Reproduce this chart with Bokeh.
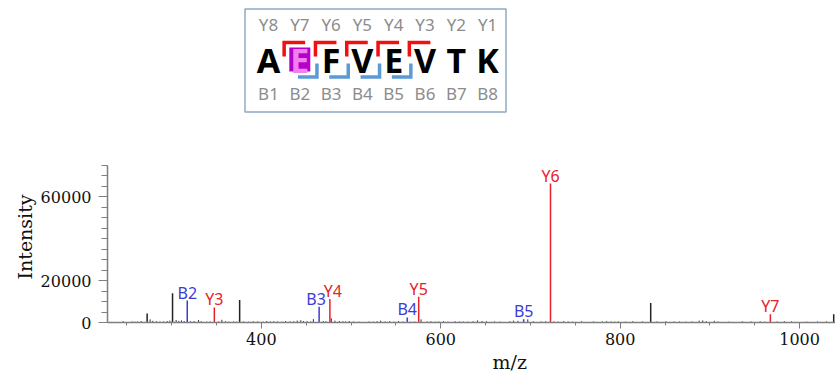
from bokeh.plotting import figure
from bokeh.models import Range1d, FixedTicker, ColumnDataSource, Title
from bokeh.embed import file_html
from bokeh.resources import INLINE
from bokeh.core.properties import value

# ---------------- data ----------------
ion_labels = ["B2", "Y3", "B3", "Y4", "B4", "Y5", "B5", "Y6", "Y7"]
ion_mz = [317.4, 347.6, 464.4, 476.4, 562.6, 575.4, 692.4, 722.3, 967.4]
ion_int = [10500, 7200, 7500, 11200, 2400, 12300, 1500, 66400, 4000]

major_mz = [272.7, 301.0, 375.8, 834.0, 1038.0]
major_int = [4300, 14000, 10700, 9300, 4000]

noise_mz = [246, 256, 259, 262, 266, 276, 279, 283, 287, 291, 295, 298, 305, 308,
            311, 314, 321, 325, 330, 333, 339, 343, 352, 356, 360, 364, 369, 372,
            380, 386, 391, 396, 402, 406, 410, 414, 418, 423, 427, 432, 436, 440,
            444, 447, 451, 455, 458, 469, 472, 478, 482, 487, 491, 494, 498, 503,
            509, 520, 525, 529, 533, 538, 543, 548, 553, 558, 566, 571, 578, 585,
            589, 594, 598, 603, 608, 616, 621, 625, 630, 636, 641, 646, 651, 660,
            666, 677, 681, 686, 697, 703, 712, 717, 726, 731, 737, 742, 747, 757,
            770, 780, 785, 790, 794, 798, 806, 814, 825, 841, 851, 860, 866, 873,
            880, 888, 892, 896, 905, 909, 921, 936, 946, 956, 961, 975, 983, 991,
            1008, 1020, 1030]
noise_int = [600, 500, 400, 500, 700, 1500, 800, 600, 500, 500, 700, 900, 1200, 800,
             1000, 700, 600, 700, 1200, 600, 400, 500, 500, 1300, 600, 400, 500, 400,
             500, 400, 600, 500, 400, 700, 500, 600, 500, 400, 700, 500, 600, 900,
             1100, 700, 600, 500, 1600, 700, 600, 2000, 900, 700, 600, 500, 700, 500,
             400, 500, 400, 600, 900, 500, 600, 400, 700, 500, 400, 500, 1500, 500,
             600, 400, 500, 600, 400, 600, 500, 500, 400, 600, 1000, 700, 600, 500,
             400, 600, 900, 800, 1500, 600, 500, 600, 500, 400, 600, 500, 400, 600,
             500, 500, 600, 500, 400, 500, 400, 600, 500, 500, 600, 500, 500, 400,
             500, 900, 1000, 600, 800, 500, 400, 600, 500, 600, 400, 500, 600, 500,
             400, 500, 500]

sequence = list("AEFVEVTK")
y_ion_names = ["Y8", "Y7", "Y6", "Y5", "Y4", "Y3", "Y2", "Y1"]
b_ion_names = ["B1", "B2", "B3", "B4", "B5", "B6", "B7", "B8"]
y_bracket_after = [1, 2, 3, 4, 5]   # cleavage sites observed as Y ions
b_bracket_after = [2, 3, 4, 5]      # cleavage sites observed as B ions
modified_index = 1

y_ticks = [0, 20000, 60000]
x_ticks = [400, 600, 800, 1000]
y_axis_max = 75000

RED = "#e8202a"
BLUE = "#3b3bd6"
GRAY_AXIS = "#7f7f7f"

# picture-pixel geometry
W, H = 835, 380
BORDER_L, BORDER_B = 107, 58
FL, FR, FT = BORDER_L, W, 0
FB = H - BORDER_B
AXIS_TOP = 165  # where the intensity axis ends (75000)

y_end = y_axis_max * (FB - FT) / (FB - AXIS_TOP)

p = figure(width=W, height=H, x_range=Range1d(228.5, 1040), y_range=Range1d(0, y_end),
           output_backend="svg", toolbar_location=None,
           min_border_left=BORDER_L, min_border_right=0, min_border_top=0,
           min_border_bottom=BORDER_B)
p.title = None
p.outline_line_color = None
p.grid.visible = False
p.background_fill_color = "white"

# inset coordinates: picture pixels
p.extra_x_ranges = {"px": Range1d(FL, FR)}
p.extra_y_ranges = {"py": Range1d(FB, FT)}

# ---------------- spectrum ----------------
p.segment(x0=noise_mz, y0=[0] * len(noise_mz), x1=noise_mz, y1=noise_int,
          line_color="#333333", line_width=1)
p.segment(x0=major_mz, y0=[0] * len(major_mz), x1=major_mz, y1=major_int,
          line_color="#222222", line_width=1.5)

ion_colors = [RED if l.startswith("Y") else BLUE for l in ion_labels]
label_dx = [0, 0, -3, 3, 0, 0, 0, 0, 0]
src = ColumnDataSource(dict(x=ion_mz, y=ion_int, t=ion_labels, c=ion_colors,
                            z=[0] * len(ion_mz), dx=label_dx))
p.segment(x0="x", y0="z", x1="x", y1="y", line_color="c", line_width=1.5, source=src)
p.text(x="x", y="y", text="t", text_color="c", source=src, text_align="center",
       text_baseline="bottom", y_offset=3, x_offset="dx",
       text_font=value("Noto Sans"), text_font_size="16px")

p.yaxis.ticker = FixedTicker(ticks=y_ticks, minor_ticks=list(range(0, y_axis_max + 1, 5000)))
p.yaxis.bounds = (0, y_axis_max)
p.xaxis.ticker = FixedTicker(ticks=x_ticks, minor_ticks=list(range(250, 1041, 50)))
for ax in (p.xaxis, p.yaxis):
    ax.axis_line_color = GRAY_AXIS
    ax.axis_line_width = 1.5
    ax.major_tick_line_color = GRAY_AXIS
    ax.minor_tick_line_color = GRAY_AXIS
    ax.major_tick_in = 0
    ax.minor_tick_in = 0
    ax.major_label_text_font = "DejaVu Serif"
    ax.major_label_text_font_size = "16px"
    ax.major_label_text_color = "#111111"
p.yaxis.major_tick_out = 9
p.yaxis.minor_tick_out = 6
p.xaxis.major_tick_out = 6
p.xaxis.minor_tick_out = 3
p.yaxis.major_label_standoff = 7
p.xaxis.major_label_standoff = 4

p.add_layout(Title(text="Intensity", align="left", offset=FB - 279, standoff=4,
                   text_font="DejaVu Serif", text_font_size="19px",
                   text_font_style="normal", text_color="#111111"), "left")
p.add_layout(Title(text="m/z", align="left", offset=385, standoff=6, vertical_align="top",
                   text_font="DejaVu Serif", text_font_size="19px",
                   text_font_style="normal", text_color="#111111"), "below")

# ---------------- sequence inset ----------------
x0, step = 268.0, 31.3
centers = [x0 + step * i for i in range(len(sequence))]
kw = dict(x_range_name="px", y_range_name="py")

p.quad(left=244.5, right=505.5, top=8.5, bottom=111.5, fill_color=None,
       line_color="#8fa9c4", line_width=1.5, **kw)

mx = centers[modified_index]
p.quad(left=mx - 10.5, right=mx + 10.5, top=47, bottom=71, fill_color="#b400c8",
       line_color=None, **kw)

red_xs, red_ys = [], []
for b in y_bracket_after:
    xb = x0 + step * (b - 0.5)
    red_xs.append([xb, xb, xb + 21])
    red_ys.append([56, 42, 42])
p.multi_line(xs=red_xs, ys=red_ys, line_color="#f01010", line_width=3.5,
             line_join="miter", **kw)

blue_xs, blue_ys = [], []
for b in b_bracket_after:
    xb = x0 + step * (b - 0.5) + 1.5
    blue_xs.append([xb - 19, xb, xb])
    blue_ys.append([76.5, 76.5, 63])
p.multi_line(xs=blue_xs, ys=blue_ys, line_color="#5b9bd5", line_width=3.5,
             line_join="miter", **kw)

letter_colors = ["#f080f0" if i == modified_index else "#000000" for i in range(len(sequence))]
p.text(x=centers, y=[59.5] * len(sequence), text=sequence, text_color=letter_colors,
       text_align="center", text_baseline="middle",
       text_font=value("Noto Sans"), text_font_size="34px", text_font_style="bold", **kw)
p.text(x=centers, y=[24] * len(sequence), text=y_ion_names, text_color="#8c8c8c",
       text_align="center", text_baseline="middle",
       text_font=value("Noto Sans"), text_font_size="17px", **kw)
p.text(x=centers, y=[92.5] * len(sequence), text=b_ion_names, text_color="#8c8c8c",
       text_align="center", text_baseline="middle",
       text_font=value("Noto Sans"), text_font_size="17px", **kw)

open("out.html", "w").write(file_html(p, INLINE))
